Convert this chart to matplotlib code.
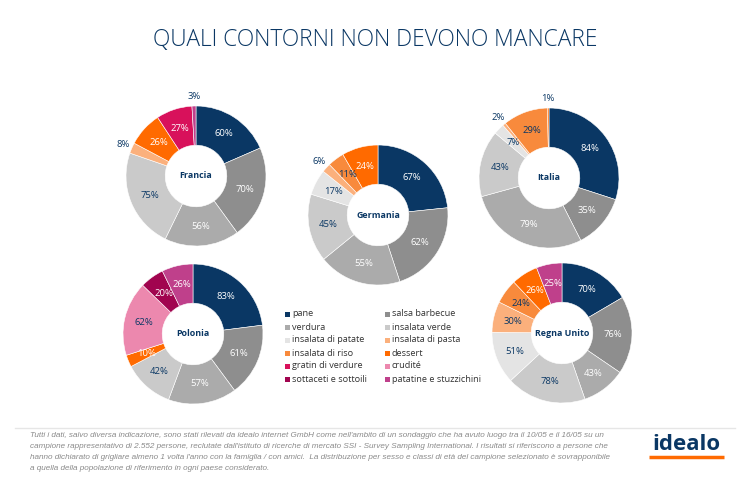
import numpy as np
import matplotlib
matplotlib.use('Agg')
import matplotlib.pyplot as plt
from matplotlib.patches import Rectangle

# categories (legend / clockwise order)
categories = ['pane', 'salsa barbecue', 'verdura', 'insalata verde',
              'insalata di patate', 'insalata di pasta', 'insalata di riso',
              'dessert', 'gratin di verdure', 'crudité',
              'sottaceti e sottoili', 'patatine e stuzzichini']
colors = ['#0a3764', '#8e8e8e', '#ababab', '#cacaca', '#e4e4e4', '#fbb07c',
          '#f88a3c', '#ff6a00', '#d8115b', '#ec88ae', '#a1044f', '#bf408b']
# label text: white on dark slices, navy on light ones
dark = [True, True, True, False, False, False, False, True, True, False, True, True]

countries = ['Francia', 'Germania', 'Italia', 'Polonia', 'Regna Unito']
# values per country (0 = not shown)
francia  = [60, 70, 56, 75, 0, 8, 0, 26, 27, 0, 0, 3]
germania = [67, 62, 55, 45, 17, 6, 11, 24, 0, 0, 0, 0]
italia   = [84, 35, 79, 43, 7, 2, 29, 1, 0, 0, 0, 0]
polonia  = [83, 61, 57, 42, 0, 0, 0, 10, 0, 62, 20, 26]
regno    = [70, 76, 43, 78, 51, 30, 24, 26, 0, 0, 0, 25]
values = [francia, germania, italia, polonia, regno]

# donut centres in pixels (x, y from top)
centres = [(196, 176), (378, 215), (549, 178), (193, 334), (562, 333)]

W, H = 750, 488
NAVY = '#0a3764'
R = 70
ring = 0.56

fig = plt.figure(figsize=(7.5, 4.88), dpi=100)
ax = fig.add_axes([0, 0, 1, 1])

for name, vals, (cx, cy) in zip(countries, values, centres):
    idx = [i for i, v in enumerate(vals) if v > 0]
    v = [vals[i] for i in idx]
    wedges, _ = ax.pie(v, colors=[colors[i] for i in idx], startangle=90,
                       counterclock=False, center=(cx, H - cy), radius=R,
                       wedgeprops=dict(width=R * ring, edgecolor='white', linewidth=0.4))
    total = sum(v)
    for w, i, val in zip(wedges, idx, v):
        a = np.deg2rad((w.theta1 + w.theta2) / 2)
        if val / total < 0.0249:
            r = R * 1.13
            col = NAVY
        else:
            r = R * (1 - ring / 2)
            col = 'white' if dark[i] else NAVY
        ax.text(cx + r * np.cos(a), H - cy + r * np.sin(a), f'{val}%',
                ha='center', va='center', fontsize=6.8, color=col,
                family='Open Sans')
    ax.text(cx, H - cy, name, ha='center', va='center', fontsize=6.4,
            fontweight='bold', color=NAVY, family='Open Sans')

# legend
for i, cat in enumerate(categories):
    x = 289 + (i % 2) * 100
    y = H - (314 + (i // 2) * 13)
    ax.add_patch(Rectangle((x - 4.5, y - 2.5), 5, 5, color=colors[i], lw=0))
    ax.text(x + 3, y, cat, ha='left', va='center', fontsize=6.6,
            color='#333333', family='Open Sans')

# title
ax.text(W / 2, H - 40, 'QUALI CONTORNI NON DEVONO MANCARE', ha='center',
        va='center', fontsize=16.4, color=NAVY, family='Open Sans', fontweight='light')

# footer
ax.plot([15, 735], [H - 428, H - 428], color='#e6e6e6', lw=1)
foot = ("Tutti i dati, salvo diversa indicazione, sono stati rilevati da idealo internet GmbH come nell'ambito di un sondaggio che ha avuto luogo tra il 10/05 e il 16/05 su un\n"
        "campione rappresentativo di 2.552 persone, reclutate dall'istituto di ricerche di mercato SSI - Survey Sampling International. I risultati si riferiscono a persone che\n"
        "hanno dichiarato di grigliare almeno 1 volta l'anno con la famiglia / con amici.  La distribuzione per sesso e classi di età del campione selezionato è sovrapponibile\n"
        "a quella della popolazione di riferimento in ogni paese considerato.")
ax.text(30, H - 432, foot, ha='left', va='top', fontsize=5.85, style='italic',
        color='#8a8a8a', family=['Liberation Sans', 'DejaVu Sans'],
        linespacing=1.8)
ax.text(686, H - 445, 'idealo', ha='center', va='center', fontsize=16,
        fontweight='bold', color=NAVY, family='Open Sans')
ax.plot([649, 724], [H - 457, H - 457], color='#ff6a00', lw=2.5, solid_capstyle='butt')

ax.set_xlim(0, W)
ax.set_ylim(0, H)
ax.set_aspect('equal')
ax.axis('off')

fig.savefig('out.png', dpi=100)
